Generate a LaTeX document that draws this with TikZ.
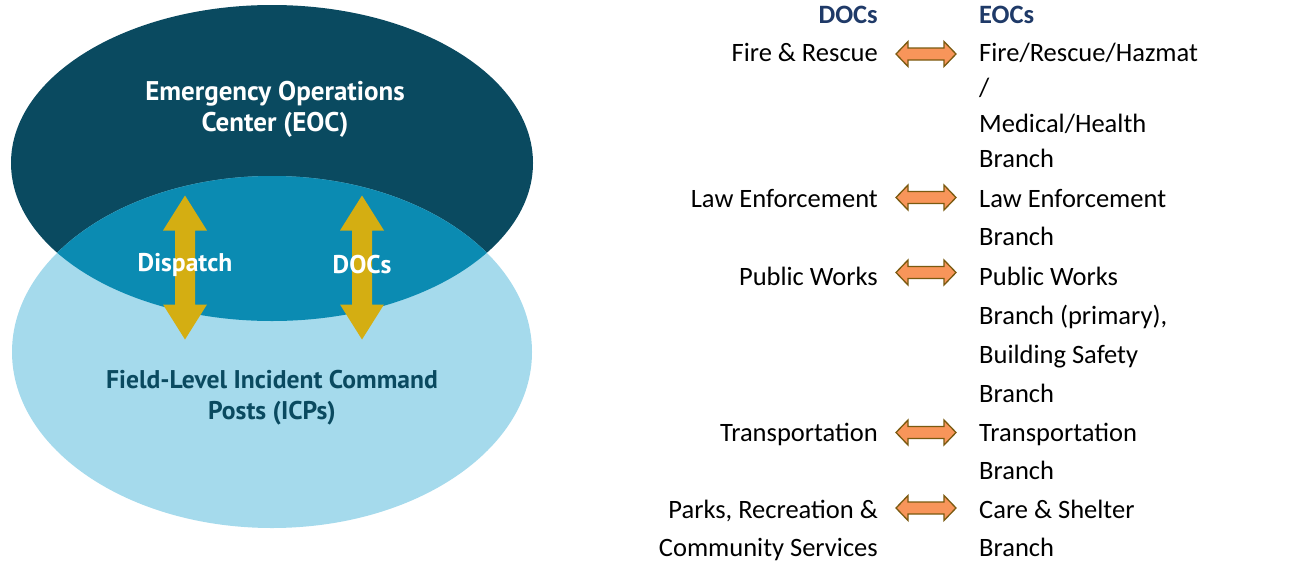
\documentclass[tikz,border=0pt]{standalone}
\usepackage{fontspec}
\setmainfont{Carlito}
\newfontfamily\eocfont{PT Sans}
\definecolor{eocdark}{HTML}{0A4A60}
\definecolor{eocmid}{HTML}{0B8BB2}
\definecolor{icplight}{HTML}{A5DAEC}
\definecolor{arrowgold}{HTML}{D4AE12}
\definecolor{linkorange}{HTML}{F8955A}
\definecolor{linkbrown}{HTML}{7A5A10}
\definecolor{headblue}{HTML}{1F3A68}
\def\goldarrow(#1,#2){\fill[arrowgold, shift={(#1,#2)}] (0,-72) -- (22,-37) -- (10,-37) -- (10,37) -- (22,37) -- (0,72) -- (-22,37) -- (-10,37) -- (-10,-37) -- (-22,-37) -- cycle;}
\def\linkarrow(#1,#2){\filldraw[fill=linkorange, draw=linkbrown, line width=1.3pt, line join=miter, shift={(#1,#2)}] (-30,0) -- (-18,-12.5) -- (-18,-6) -- (18,-6) -- (18,-12.5) -- (30,0) -- (18,12.5) -- (18,6) -- (-18,6) -- (-18,12.5) -- cycle;}

\begin{document}
\begin{tikzpicture}[x=1pt, y=-1pt,
	bigtext/.style={font=\eocfont\bfseries\fontsize{#1}{31}\selectfont, align=center, inner sep=0},
	doc/.style={anchor=base east, align=right, inner sep=0, font=\fontsize{26.5}{38}\selectfont},
	eoc/.style={anchor=base west, align=left, inner sep=0, font=\fontsize{26.5}{38}\selectfont},
	colhead/.style={inner sep=0, text=headblue, font=\bfseries\fontsize{26.5}{32}\selectfont}]
				\useasboundingbox (0,0) rectangle (1293,565);
				
				\fill[eocdark] (272,163) ellipse [x radius=261pt, y radius=158pt];
				\fill[icplight] (272,352) ellipse [x radius=260pt, y radius=176pt];
				\begin{scope}
					\clip (272,163) ellipse [x radius=261pt, y radius=158pt];
					\fill[eocmid] (272,352) ellipse [x radius=260pt, y radius=176pt];
				\end{scope}
				
				\goldarrow(185,267.5)
				\goldarrow(362,267.5)
				
				\node[bigtext=27, text=white] (eoc) at (275,109) {Emergency Operations\\Center (EOC)};
				\node[bigtext=25.6, text=white] (dispatch) at (185,265) {Dispatch};
				\node[bigtext=25.6, text=white] (docs) at (362,265) {DOCs};
				\node[bigtext=25.6, text=eocdark] (icp) at (272,398) {Field-Level Incident Command\\Posts (ICPs)};
				
				% column heads
				\node[colhead, anchor=base east] (dochead) at (878,23) {DOCs};
				\node[colhead, anchor=base west] (eochead) at (979,23) {EOCs};
				
				% multi-line nodes sit on the baseline of their last line
				\node[doc] (fireL) at (878,61) {Fire \& Rescue};
				\node[eoc, font=\fontsize{26.5}{35.5}\selectfont] (fireR) at (979,167.5) {Fire/Rescue/Hazmat\\/\\Medical/Health\\Branch};
				\node[doc] (lawL) at (878,207) {Law Enforcement};
				\node[eoc] (lawR) at (979,245) {Law Enforcement\\Branch};
				\node[doc] (worksL) at (878,285) {Public Works};
				\node[eoc, font=\fontsize{26.5}{39}\selectfont] (worksR) at (979,402) {Public Works\\Branch (primary),\\Building Safety\\Branch};
				\node[doc] (transL) at (878,441) {Transportation};
				\node[eoc] (transR) at (979,479) {Transportation\\Branch};
				\node[doc] (parksL) at (878,556) {Parks, Recreation \&\\Community Services};
				\node[eoc] (parksR) at (979,556) {Care \& Shelter\\Branch};
				
				\linkarrow(926,54)
				\linkarrow(926,197.5)
				\linkarrow(926,272.5)
				\linkarrow(926,432.5)
				\linkarrow(926,508)
			\end{tikzpicture}
\end{document}
